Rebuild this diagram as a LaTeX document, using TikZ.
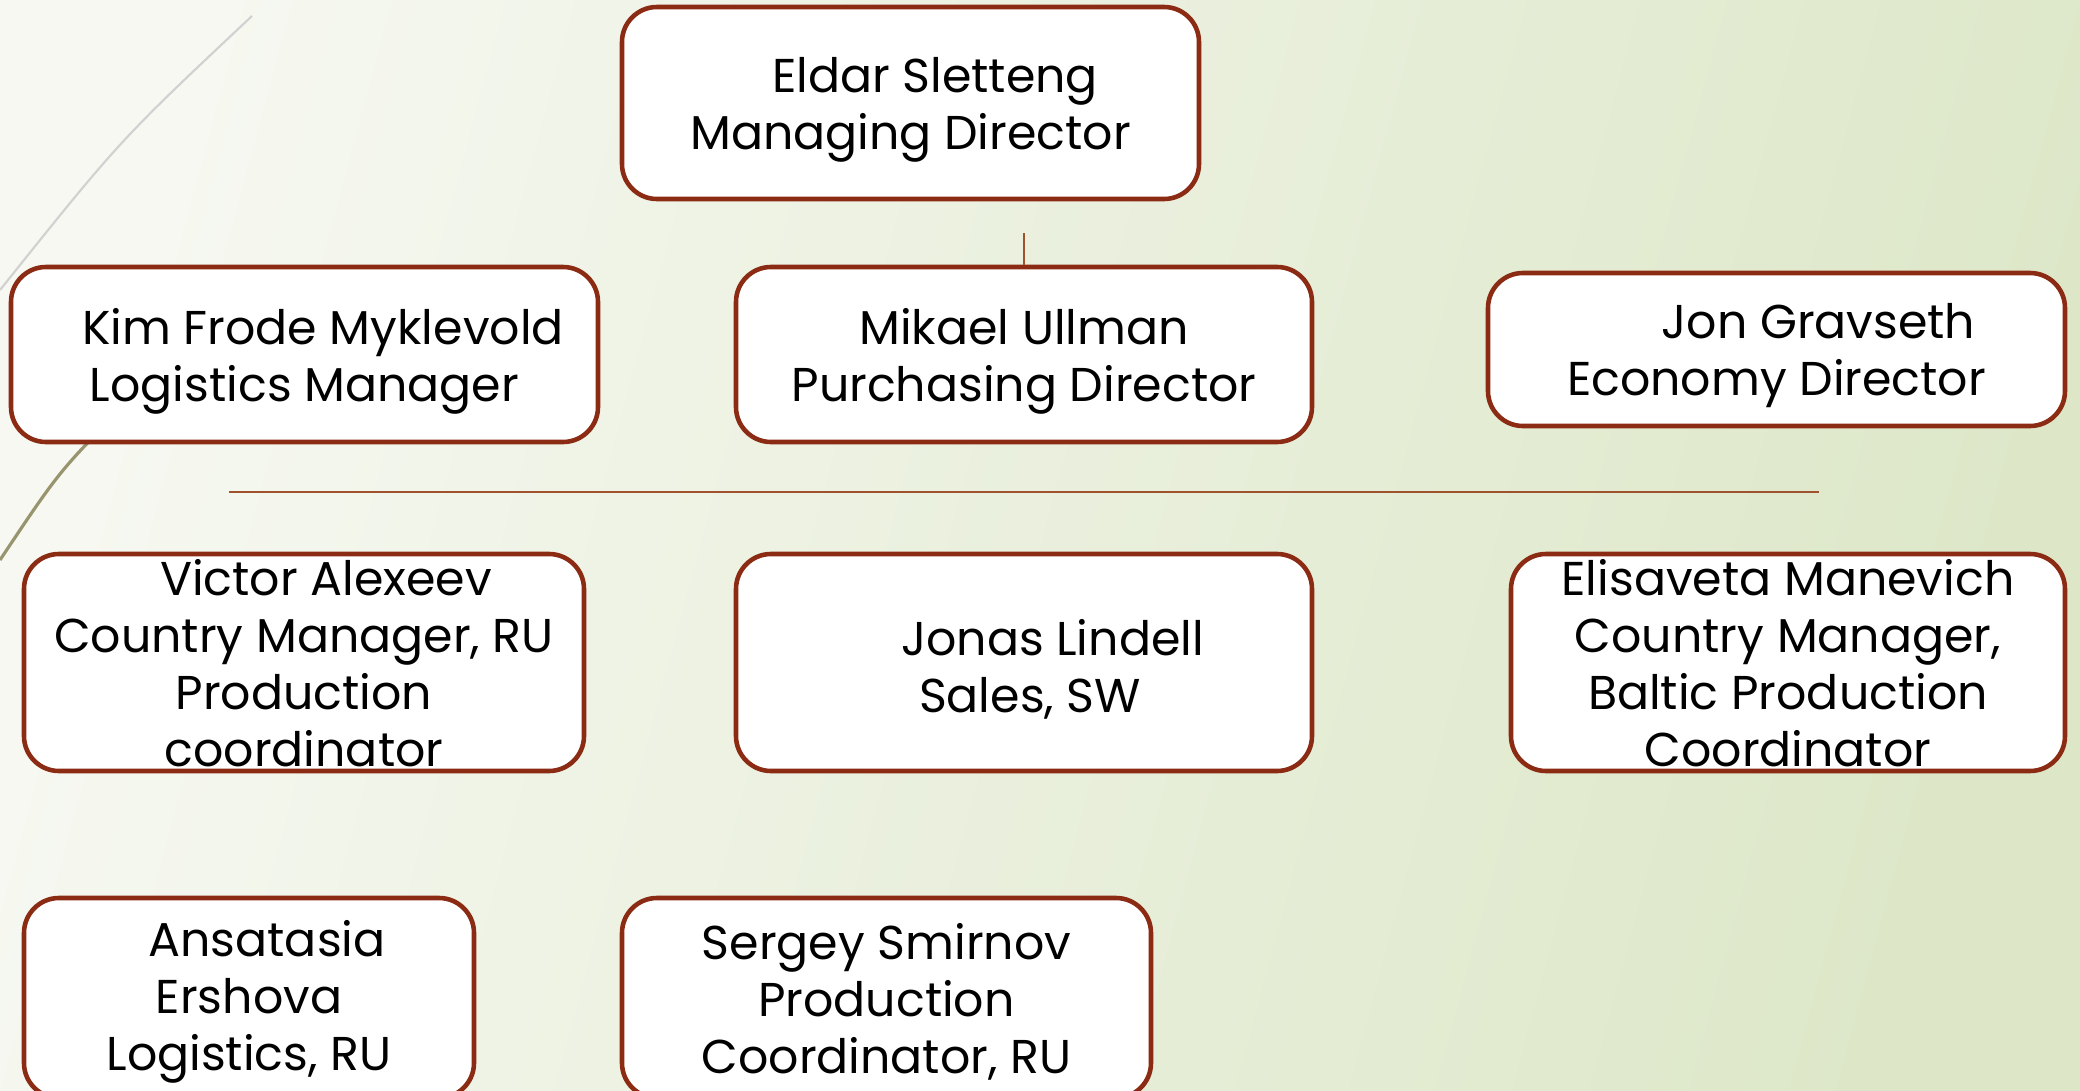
\documentclass[tikz,border=0pt]{standalone}
\usepackage{fontspec}
\setmainfont{Poppins}
\usepackage{tikz}
\usetikzlibrary{positioning, calc}
\usepackage{xcolor}

\definecolor{bgA}{HTML}{F6F8F1}
\definecolor{bgB}{HTML}{DDE7C8}
\definecolor{boxline}{HTML}{8B2B14}
\definecolor{conn}{HTML}{A0522D}

\begin{document}
\begin{tikzpicture}[
    block/.style={rectangle, draw=boxline, line width=1.3pt, fill=white, rounded corners=0.35cm, inner sep=0pt},
    txt/.style={align=center, inner sep=0pt, yshift=-0.065cm, font=\fontsize{13.5}{16.2}\selectfont},
    line/.style={draw=conn, line width=0.6pt}
]
    % Background
    \useasboundingbox (0,0) rectangle (20.8,-10.91);
    \shade[left color=bgA, right color=bgB, shading angle=75] (0,0) rectangle (20.8,-10.91);
    \draw[color=black!18, line width=0.6pt] (2.52,-0.16) .. controls (1.2,-1.4) .. (0,-2.9);
    \draw[color=black!55!olive!60, line width=0.9pt] (1.3,-4.0) .. controls (0.6,-4.7) .. (0,-5.6);

    % Boxes
    \node[block, minimum width=5.77cm, minimum height=1.92cm] (eldar) at (9.105,-1.03) {};
    \node[block, minimum width=5.87cm, minimum height=1.75cm] (kim) at (3.045,-3.545) {};
    \node[block, minimum width=5.76cm, minimum height=1.75cm] (mikael) at (10.24,-3.545) {};
    \node[block, minimum width=5.77cm, minimum height=1.53cm] (jon) at (17.765,-3.495) {};
    \node[block, minimum width=5.60cm, minimum height=2.17cm] (victor) at (3.04,-6.625) {};
    \node[block, minimum width=5.76cm, minimum height=2.17cm] (jonas) at (10.24,-6.625) {};
    \node[block, minimum width=5.54cm, minimum height=2.17cm] (elisaveta) at (17.88,-6.625) {};
    \node[block, minimum width=4.50cm, minimum height=2.00cm] (ansatasia) at (2.49,-9.98) {};
    \node[block, minimum width=5.29cm, minimum height=2.00cm] (sergey) at (8.865,-9.98) {};

    % Texts
    \node[txt] (eldar-t) at (eldar) {\hspace*{0.49cm}Eldar Sletteng\\Managing Director};
    \node[txt] (kim-t) at (kim) {\hspace*{0.37cm}Kim Frode Myklevold\\Logistics Manager};
    \node[txt] (mikael-t) at (mikael) {Mikael Ullman\\Purchasing Director};
    \node[txt] (jon-t) at (jon) {\hspace*{0.84cm}Jon Gravseth\\Economy Director};
    \node[txt] (victor-t) at ($(victor)+(0,0.055)$) {\hspace*{0.44cm}Victor Alexeev\\Country Manager, RU\\Production\\coordinator};
    \node[txt] (jonas-t) at (jonas) {\hspace*{0.57cm}Jonas Lindell\\\hspace*{0.12cm}Sales, SW};
    \node[txt] (elisaveta-t) at ($(elisaveta)+(0,0.055)$) {Elisaveta Manevich\\Country Manager,\\Baltic Production\\Coordinator};
    \node[txt] (ansatasia-t) at ($(ansatasia)+(0,0.03)$) {\hspace*{0.36cm}Ansatasia\\Ershova\\Logistics, RU};
    \node[txt] (sergey-t) at ($(sergey)+(0,0.03)$) {Sergey Smirnov\\Production\\Coordinator, RU};

    % Connectors
    \coordinate (stem) at (10.24,-2.33);
    \coordinate (barL) at (2.29,-4.92);
    \coordinate (barR) at (18.19,-4.92);
    \draw[line] (stem) -- (mikael.north);
    \draw[line] (barL) -- (barR);
\end{tikzpicture}
\end{document}
